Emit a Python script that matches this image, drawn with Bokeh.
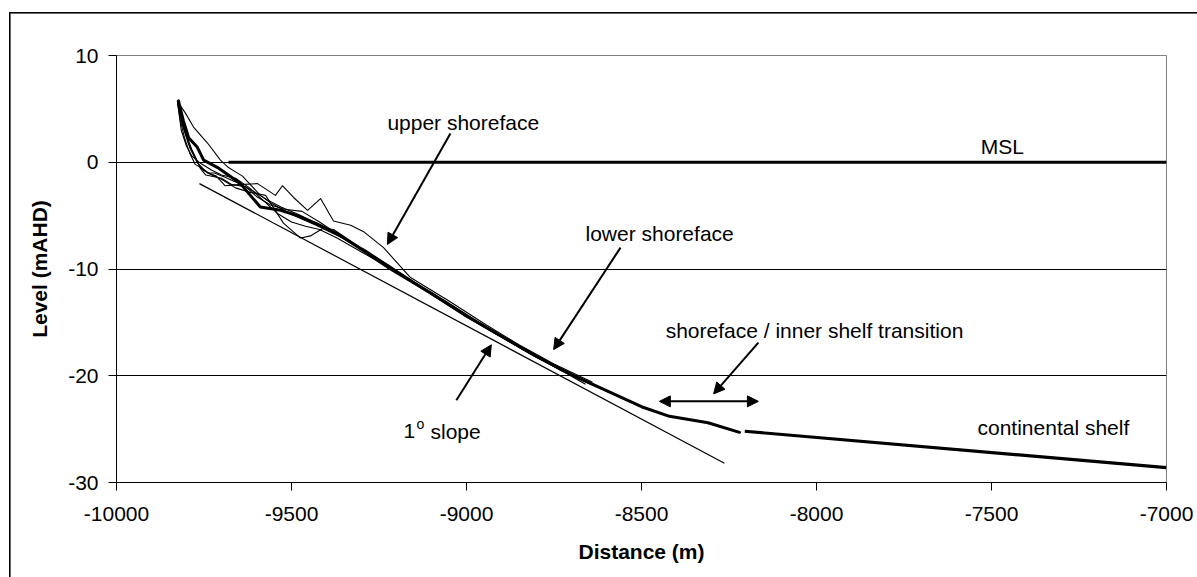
from bokeh.plotting import figure
from bokeh.models import Range1d, FixedTicker, Arrow, NormalHead
from bokeh.core.properties import value
from bokeh.embed import file_html
from bokeh.resources import INLINE

# ---- data (Distance m, Level mAHD) ----
x_ticks = [-10000, -9500, -9000, -8500, -8000, -7500, -7000]
y_ticks = [-30, -20, -10, 0, 10]

p1_x = [-9826, -9803, -9780, -9740, -9703, -9680, -9660, -9640, -9623, -9589, -9560, -9500, -9430, -9360, -9290, -9220, -9150, -9050, -8950, -8850, -8750, -8650, -8560]
p1_y = [5.7, 4.6, 3.3, 1.8, 0.2, -0.5, -0.9, -1.3, -1.9, -3.1, -3.8, -4.9, -5.9, -7.0, -8.2, -9.7, -11.2, -13.2, -15.3, -17.2, -19.0, -20.6, -22.0]

p2_x = [-9826, -9808, -9790, -9770, -9750, -9737, -9715, -9690, -9650, -9597, -9546, -9526, -9494, -9454, -9417, -9380, -9331, -9294, -9237, -9160, -9050, -8950, -8850, -8750, -8640]
p2_y = [5.7, 3.2, 1.3, 0.0, -0.8, -1.0, -1.3, -2.2, -2.1, -2.0, -3.1, -2.2, -3.3, -4.5, -3.4, -5.5, -5.9, -6.5, -8.0, -10.8, -13.0, -15.1, -17.1, -18.9, -20.6]

p3_x = [-9826, -9805, -9785, -9765, -9740, -9700, -9660, -9620, -9574, -9523, -9474, -9446, -9411, -9380, -9330, -9260, -9180, -9080, -8980, -8880, -8780, -8680, -8590]
p3_y = [5.7, 3.0, 1.2, -0.2, -1.0, -1.6, -2.4, -2.8, -3.1, -5.7, -7.1, -6.9, -6.2, -6.3, -7.4, -8.9, -10.6, -12.7, -14.8, -16.7, -18.6, -20.3, -21.6]

p4_x = [-9826, -9812, -9795, -9775, -9760, -9745, -9700, -9670, -9630, -9600, -9560, -9520, -9470, -9420, -9360, -9300, -9230, -9130, -9030, -8930, -8830, -8730, -8620]
p4_y = [5.7, 3.5, 1.8, 0.5, -0.6, -1.2, -1.5, -2.1, -2.3, -3.2, -4.0, -4.4, -4.6, -5.6, -6.9, -8.1, -9.6, -11.7, -13.8, -15.8, -17.7, -19.5, -21.1]

p5_x = [-9826, -9815, -9800, -9785, -9760, -9730, -9700, -9660, -9620, -9580, -9540, -9500, -9460, -9420, -9370, -9300, -9210, -9110, -9010, -8910, -8810, -8710, -8600]
p5_y = [5.7, 3.0, 1.5, 0.6, -0.1, -0.7, -1.2, -1.5, -2.4, -3.6, -4.8, -5.6, -6.0, -6.3, -7.1, -8.4, -10.1, -12.2, -14.3, -16.2, -18.1, -19.8, -21.4]

p6_x = [-9826, -9818, -9805, -9790, -9775, -9755, -9737, -9720, -9690, -9650, -9610, -9570, -9530, -9480, -9430, -9370, -9300, -9230, -9140, -9040, -8940, -8840, -8740, -8660]
p6_y = [5.7, 4.0, 2.2, 0.8, -0.2, -0.6, -1.0, -1.0, -1.4, -2.0, -2.7, -3.5, -4.2, -4.9, -5.7, -6.8, -8.1, -9.5, -11.5, -13.6, -15.6, -17.5, -19.3, -20.8]

thick_x = [-9823, -9809, -9794, -9769, -9751, -9711, -9646, -9589, -9531, -9483, -9426, -9369, -9294, -9217, -9100, -9000, -8900, -8800, -8700, -8600, -8500, -8420, -8310, -8220]
thick_y = [5.75, 3.9, 2.3, 1.4, 0.2, -0.5, -2.0, -4.2, -4.5, -5.0, -5.8, -6.7, -8.3, -10.0, -12.3, -14.4, -16.3, -18.2, -19.9, -21.4, -22.9, -23.8, -24.4, -25.3]

shelf_x = [-8205, -7000]
shelf_y = [-25.2, -28.6]

msl_x = [-9680, -7000]
msl_y = [0, 0]

slope_x = [-9763, -8263]
slope_y = [-2.0, -28.2]

FONT = "Liberation Sans"
FS = "21px"

p = figure(width=1197, height=577,
           x_range=Range1d(-10000, -7000), y_range=Range1d(-30, 10),
           output_backend="svg", toolbar_location=None,
           min_border_left=116, min_border_right=31,
           min_border_top=55, min_border_bottom=95)
p.background_fill_color = "white"
p.border_fill_color = None
p.styles = {
    "background": "linear-gradient(#000, #000) 9px 12px / 1.6px 700px no-repeat, "
                  "linear-gradient(#000, #000) 9px 12px / 1300px 1.6px no-repeat, #ffffff"
}
p.outline_line_color = "#808080"
p.outline_line_width = 1

p.xgrid.visible = False
p.ygrid.ticker = FixedTicker(ticks=[-20, -10, 0])
p.ygrid.grid_line_color = "black"
p.ygrid.grid_line_width = 1

p.xaxis.ticker = FixedTicker(ticks=x_ticks)
p.yaxis.ticker = FixedTicker(ticks=y_ticks)
p.xaxis.major_label_overrides = {t: str(t) for t in x_ticks}
p.yaxis.major_label_overrides = {t: str(t) for t in y_ticks}
for ax in (p.xaxis[0], p.yaxis[0]):
    ax.axis_line_color = "black"
    ax.axis_line_width = 1
    ax.major_tick_line_color = "black"
    ax.major_tick_out = 8
    ax.major_tick_in = 0
    ax.minor_tick_line_color = None
    ax.major_label_text_font = FONT
    ax.major_label_text_font_size = FS
    ax.major_label_text_color = "black"
    ax.axis_label_text_font = FONT
    ax.axis_label_text_font_size = FS
    ax.axis_label_text_font_style = "bold"
    ax.axis_label_text_color = "black"
p.xaxis.axis_label = "Distance (m)"
p.yaxis.axis_label = "Level (mAHD)"
p.xaxis.major_label_standoff = 16
p.yaxis.major_label_standoff = 10
p.xaxis.axis_label_standoff = 16
p.yaxis.axis_label_standoff = 14

# thin profiles
for xs, ys in [(p1_x, p1_y), (p2_x, p2_y), (p3_x, p3_y), (p4_x, p4_y), (p5_x, p5_y), (p6_x, p6_y)]:
    p.line(xs, ys, line_color="black", line_width=1.1, line_join="round")

p.line(slope_x, slope_y, line_color="black", line_width=1.2)
p.line(thick_x, thick_y, line_color="black", line_width=3, line_join="round", line_cap="round")
p.line(shelf_x, shelf_y, line_color="black", line_width=3.2)
p.line(msl_x, msl_y, line_color="black", line_width=3.2)

# annotation texts
def label(x, y, t, align="left", size=FS, xo=0, yo=0):
    p.text(x=[x], y=[y], text=[t], text_font=value(FONT), text_font_size=size,
           text_align=align, text_baseline="middle", text_color="black",
           x_offset=xo, y_offset=yo)

label(-9226, 3.7, "upper shoreface")
label(-7469, 1.5, "MSL", align="center")
label(-8660, -6.7, "lower shoreface")
label(-8431, -15.75, "shoreface / inner shelf transition")
label(-7540, -24.85, "continental shelf")
label(-9180, -25.2, "1")
label(-9180, -25.2, "o", size="14px", xo=13, yo=-7)
label(-9180, -25.2, "slope", xo=27)

def arrow(x0, y0, x1, y1, both=False):
    p.add_layout(Arrow(
        end=NormalHead(size=11, fill_color="black", line_color="black"),
        start=NormalHead(size=11, fill_color="black", line_color="black") if both else None,
        x_start=x0, y_start=y0, x_end=x1, y_end=y1,
        line_color="black", line_width=2))

arrow(-9046, 2.7, -9226, -7.7)
arrow(-8560, -8.0, -8751, -17.55)
arrow(-8166, -16.9, -8294, -21.7)
arrow(-8449, -22.4, -8166, -22.4, both=True)
arrow(-9029, -22.3, -8929, -17.1)

open("out.html", "w").write(file_html(p, INLINE))
